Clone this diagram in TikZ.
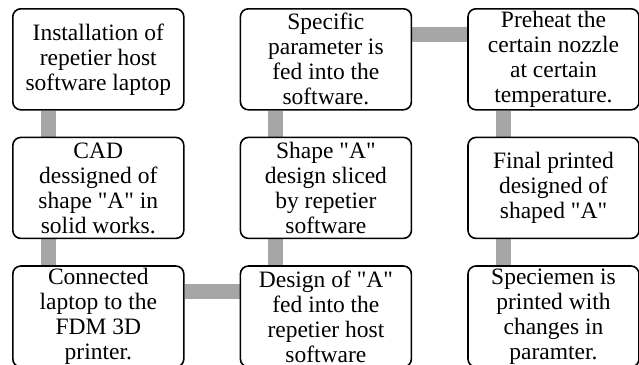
\documentclass[tikz,border=0pt]{standalone}
\usepackage{fontspec}
\setmainfont{Liberation Serif}
\usetikzlibrary{positioning,backgrounds}
\definecolor{linkgray}{HTML}{A6A6A6}
\newcommand{\qA}{\textquotedbl A\textquotedbl}

\begin{document}
\begin{tikzpicture}[
        stepbox/.style={draw=black, line width=1.6pt, rounded corners=8pt, fill=white,
                        minimum width=171pt, minimum height=101pt, inner ysep=0pt,
                        align=center, font=\fontsize{23.5}{25}\selectfont},
        link/.style={draw=linkgray, line width=15pt},
        node distance=26pt and 55pt]
                \useasboundingbox (0,0) rectangle (639pt,-364pt);

                % first column, top to bottom
                \node[stepbox, anchor=north west] (install) at (12pt,-8pt)
                        {Installation of\\repetier host\\software laptop};
                \node[stepbox, below=of install] (cad)
                        {CAD\\dessigned of\\shape \qA{} in\\solid works.};
                \node[stepbox, below=of cad] (connect)
                        {Connected\\laptop to the\\FDM 3D\\printer.};

                % second column, bottom to top
                \node[stepbox, right=of connect] (feed)
                        {Design of \qA\\fed into the\\repetier host\\software};
                \node[stepbox, above=of feed] (slice)
                        {Shape \qA\\design sliced\\by repetier\\software};
                \node[stepbox, above=of slice] (param)
                        {Specific\\parameter is\\fed into the\\software.};

                % third column
                \node[stepbox, right=of param] (preheat)
                        {Preheat the\\certain nozzle\\at certain\\temperature.};
                \node[stepbox, below=of preheat] (final)
                        {Final printed\\designed of\\shaped \qA};
                \node[stepbox, below=of final] (specimen)
                        {Speciemen is\\printed with\\changes in\\paramter.};

                % gray bars behind the boxes
                \begin{pgfonlayer}{background}
                \draw[link] ([xshift=36pt]install.south west) -- ([xshift=36pt]cad.north west);
                \draw[link] ([xshift=36pt]cad.south west) -- ([xshift=36pt]connect.north west);
                \draw[link] ([yshift=-26pt]connect.north east) -- ([yshift=-26pt]feed.north west);
                \draw[link] ([xshift=36pt]feed.north west) -- ([xshift=36pt]slice.south west);
                \draw[link] ([xshift=36pt]slice.north west) -- ([xshift=36pt]param.south west);
                \draw[link] ([yshift=-26pt]param.north east) -- ([yshift=-26pt]preheat.north west);
                \draw[link] ([xshift=36pt]preheat.south west) -- ([xshift=36pt]final.north west);
                \draw[link] ([xshift=36pt]final.south west) -- ([xshift=36pt]specimen.north west);
                \end{pgfonlayer}
\end{tikzpicture}
\end{document}
